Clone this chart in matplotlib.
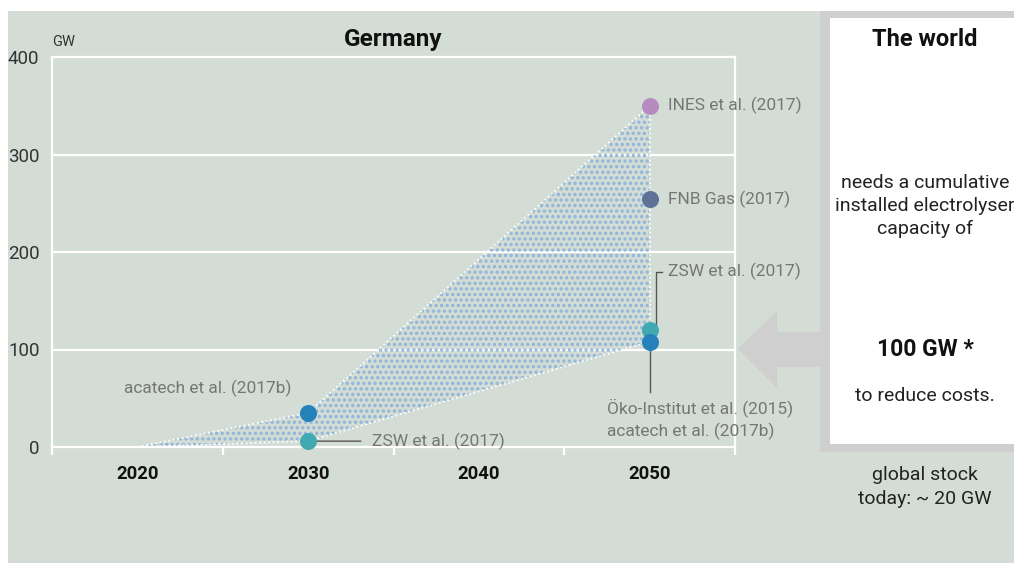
import matplotlib
matplotlib.use("Agg")
import matplotlib.pyplot as plt
from matplotlib.patches import Rectangle, Polygon

plt.rcParams['font.family'] = ['Roboto', 'DejaVu Sans']
plt.rcParams['hatch.linewidth'] = 1.6

# ---------------- data ----------------
years_band = [2020, 2030, 2050]
band_upper = [0, 35, 350]
band_lower = [0, 6, 108]

pt_years = [2030, 2030, 2050, 2050, 2050, 2050]
pt_values = [35, 6, 350, 254, 120, 108]
pt_labels = ["acatech et al. (2017b)", "ZSW et al. (2017)", "INES et al. (2017)",
             "FNB Gas (2017)", "ZSW et al. (2017)",
             "Öko-Institut et al. (2015)\nacatech et al. (2017b)"]
pt_colors = ["#2581b9", "#41a9b1", "#b68bbf", "#5d7296", "#41a9b1", "#2581b9"]

y_ticks = [0, 100, 200, 300, 400]
x_label_years = [2020, 2030, 2040, 2050]
x_tick_years = [2015, 2025, 2035, 2045, 2055]

W, H = 1014, 563
BG = "#d3ddd5"
GREY = "#cfcfcf"
TXT = "#767676"
FS = 12.5

fig = plt.figure(figsize=(W / 100, H / 100), dpi=100)
fig.patch.set_facecolor("white")

# background / overlay axes in pixel coordinates
bg = fig.add_axes([0, 0, 1, 1], zorder=0)
bg.set_xlim(0, W)
bg.set_ylim(H, 0)
bg.axis("off")
bg.add_patch(Rectangle((8, 11), W - 8, H - 11, facecolor=BG, edgecolor="none"))
bg.add_patch(Rectangle((820, 11), W - 820, 441, facecolor=GREY, edgecolor="none"))
bg.add_patch(Rectangle((830, 18), W - 830, 426, facecolor="white", edgecolor="none"))
bg.add_patch(Polygon([(738, 349), (777, 311), (777, 332), (822, 332), (822, 367),
                      (777, 367), (777, 388)], closed=True, facecolor=GREY, edgecolor="none"))

cx = 925
bg.text(cx, 39, "The world", ha="center", va="center", fontsize=17, fontweight="bold", color="#111111")
bg.text(cx, 206, "needs a cumulative\ninstalled electrolyser\ncapacity of", ha="center", va="center",
        fontsize=14, color="#222222", linespacing=1.33)
bg.text(cx, 349, "100 GW *", ha="center", va="center", fontsize=16.5, fontweight="bold", color="#111111")
bg.text(cx, 396, "to reduce costs.", ha="center", va="center", fontsize=14, color="#222222")
bg.text(cx, 487, "global stock\ntoday: ~ 20 GW", ha="center", va="center", fontsize=14,
        color="#222222", linespacing=1.38)

# main axes
ax = fig.add_axes([52 / W, 1 - 447 / H, (735 - 52) / W, (447 - 57) / H], zorder=2)
ax.set_facecolor("none")
ax.set_xlim(2015, 2055)
ax.set_ylim(0, 400)

for s in ["left", "right", "top", "bottom"]:
    ax.spines[s].set_color("white")
    ax.spines[s].set_linewidth(1.6)

ax.set_yticks(y_ticks)
ax.set_yticklabels([str(v) for v in y_ticks])
ax.tick_params(axis="y", length=0, pad=9, labelsize=13.5, labelcolor="#333333")
for v in y_ticks[1:-1]:
    ax.axhline(v, color="white", lw=1.6, zorder=1)

ax.set_xticks(x_tick_years)
ax.set_xticklabels([""] * len(x_tick_years))
ax.tick_params(axis="x", which="major", length=6, width=1.6, color="white", direction="out")
ax.set_xticks(x_label_years, minor=True)
ax.set_xticklabels([str(v) for v in x_label_years], minor=True)
ax.tick_params(axis="x", which="minor", length=0, pad=13, labelsize=13.3)
for lab in ax.get_xticklabels(minor=True):
    lab.set_fontweight("bold")
    lab.set_color("#111111")

# shaded range
ax.fill_between(years_band, band_lower, band_upper, facecolor="none", edgecolor="#8fb4da",
                hatch="...", linewidth=0, zorder=2)
ax.plot(years_band, band_upper, color="white", lw=1.3, ls=(0, (1, 1.5)), zorder=3)
ax.plot(years_band, band_lower, color="white", lw=1.3, ls=(0, (1, 1.5)), zorder=3)
ax.plot([years_band[-1], years_band[-1]], [band_lower[-1], band_upper[-1]], color="white",
        lw=1.3, ls=(0, (1, 1.5)), zorder=3)

# leader lines
ax.annotate("", xy=(pt_years[1], pt_values[1]), xytext=(40, 0), textcoords="offset points",
            arrowprops=dict(arrowstyle="-", color="#555555", lw=1), zorder=4)
ax.plot([2050.4, 2050.4, 2050.7], [pt_values[4], 180, 180], color="#555555", lw=1, zorder=4)
ax.plot([2050, 2050], [pt_values[5], 56], color="#555555", lw=1, zorder=4)

# points
for x, y, c in zip(pt_years, pt_values, pt_colors):
    ax.scatter([x], [y], s=150, color=c, zorder=5, linewidths=0, clip_on=False)

# labels
ax.annotate(pt_labels[0], xy=(pt_years[0], pt_values[0]), xytext=(-12, 18), textcoords="offset points",
            ha="right", va="center", fontsize=FS, color=TXT)
ax.annotate(pt_labels[1], xy=(pt_years[1], pt_values[1]), xytext=(46, 0), textcoords="offset points",
            ha="left", va="center", fontsize=FS, color=TXT)
ax.annotate(pt_labels[2], xy=(pt_years[2], pt_values[2]), xytext=(13, 0), textcoords="offset points",
            ha="left", va="center", fontsize=FS, color=TXT, annotation_clip=False)
ax.annotate(pt_labels[3], xy=(pt_years[3], pt_values[3]), xytext=(13, 0), textcoords="offset points",
            ha="left", va="center", fontsize=FS, color=TXT, annotation_clip=False)
ax.annotate(pt_labels[4], xy=(2050, 180), xytext=(13, 0), textcoords="offset points",
            ha="left", va="center", fontsize=FS, color=TXT, annotation_clip=False)
ax.annotate(pt_labels[5], xy=(2050, 29), xytext=(-31, 0), textcoords="offset points",
            ha="left", va="center", fontsize=FS, color=TXT, linespacing=1.45, annotation_clip=False)

# headings
ax.text(0.0, 1.038, "GW", transform=ax.transAxes, ha="left", va="center", fontsize=10.5, color="#333333")
ax.text(0.5, 1.0436, "Germany", transform=ax.transAxes, ha="center", va="center", fontsize=17.5,
        fontweight="bold", color="#111111")

fig.savefig("out.png", dpi=100, facecolor=fig.get_facecolor())
